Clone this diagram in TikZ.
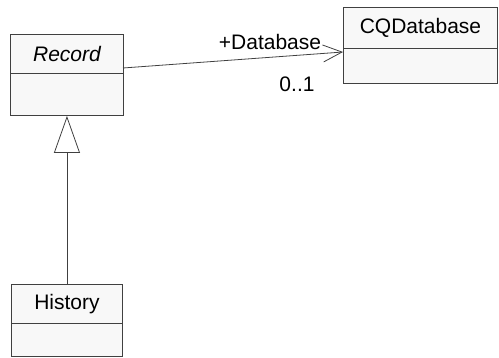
\documentclass[tikz,border=0pt]{standalone}
\usepackage{fontspec}
\setmainfont{Liberation Sans}
\usetikzlibrary{arrows.meta, positioning}

\definecolor{boxfill}{HTML}{F8F8F8}
\definecolor{boxline}{HTML}{404040}

\begin{document}
\begin{tikzpicture}[x=1pt, y=-1pt, >=Stealth]
  \tikzset{
    compart/.style={draw=boxline, fill=boxfill, line width=0.9pt, inner sep=0pt,
      font=\fontsize{21}{25}\selectfont, anchor=north west},
    assoc/.style={draw=boxline, line width=0.8pt},
  }
  \useasboundingbox (0,0) rectangle (499,358);

  % ---- Record (abstract) ----
  \node[compart, minimum width=113pt, minimum height=39pt] (recname) at (10,34) {\itshape Record};
  \node[compart, minimum width=113pt, minimum height=42pt] (recattr) at (10,73) {};

  % ---- History ----
  \node[compart, minimum width=111pt, minimum height=39pt] (histname) at (11,284) {History};
  \node[compart, minimum width=111pt, minimum height=33pt] (histattr) at (11,323) {};

  % ---- CQDatabase ----
  \node[compart, minimum width=154pt, minimum height=41pt] (dbname) at (343,7) {CQDatabase};
  \node[compart, minimum width=154pt, minimum height=35pt] (dbattr) at (343,48) {};

  % ---- generalization ----
  \draw[assoc, -{Triangle[open, length=37pt, width=26pt, line width=0.8pt]}]
    (histname.north -| recattr.south) -- (recattr.south);

  % ---- association ----
  \coordinate (recend) at (123,68);
  \coordinate (dbend) at (343,52);
  \draw[assoc, -{Straight Barb[length=19pt, width=17pt, line width=0.8pt]}] (recend) -- (dbend);
  \node[font=\fontsize{21}{25}\selectfont] (rolename) at (270,42) {+Database};
  \node[font=\fontsize{21}{25}\selectfont] (mult) at (297,84) {0..1};
\end{tikzpicture}
\end{document}
